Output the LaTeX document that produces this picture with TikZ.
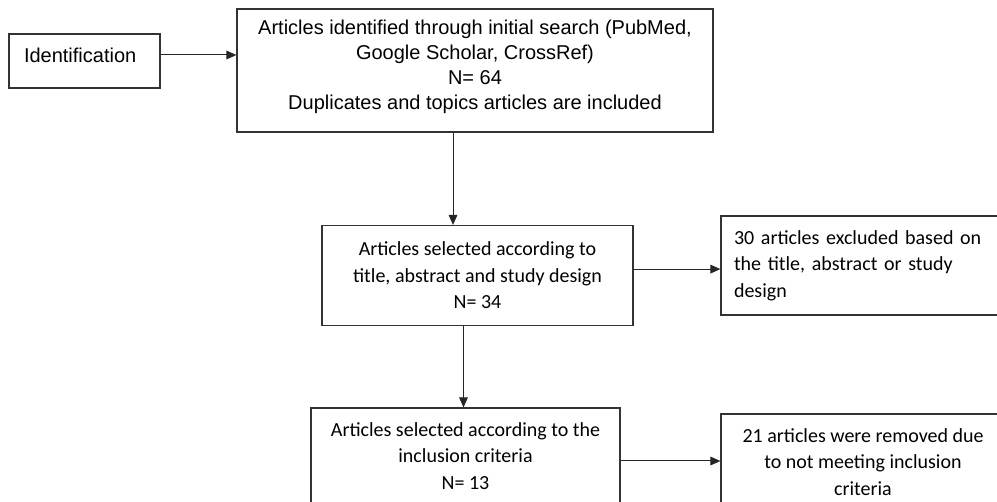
\documentclass[tikz,border=0pt]{standalone}
\usepackage{fontspec}
\setmainfont{Liberation Sans}
\newfontfamily\calibrifont{Carlito}
\usetikzlibrary{positioning,arrows.meta}

\begin{document}
\begin{tikzpicture}[x=0.75pt,y=-0.75pt,
            box/.style={rectangle,draw=black!80,line width=0.9pt,fill=white,
                        inner sep=0pt,align=center},
            arialtxt/.style={font=\fontsize{15}{18.75}\selectfont},
            calitxt/.style={font=\calibrifont\fontsize{15}{19.9}\selectfont},
            arr/.style={-{Triangle[length=7.5pt,width=6.5pt]},black!85,line width=0.75pt}]
            \useasboundingbox (0,0) rectangle (997,502);
            \fill[white] (0,0) rectangle (997,502);
            \clip (0,0) rectangle (997,502);
            \node[box,arialtxt,minimum width=113.25pt,minimum height=40.5pt,
                  text width=90.75pt,align=left,text height=11pt,text depth=9pt]
                       (ident) at (84.5,61) {Identification};
            \node[box,arialtxt,minimum width=357pt,minimum height=92.25pt,text depth=8pt]
                       (srch) at (475,70.5) {Articles identified through initial search (PubMed,\\
                       Google Scholar, CrossRef)\\ N= 64\\ Duplicates and topics articles are included};
            \node[box,calitxt,minimum width=233.25pt,minimum height=75pt]
                       (sel) at (477.5,275.5) {Articles selected according to\\
                       title, abstract and study design\\ N= 34};
            \node[box,calitxt,minimum width=216.75pt,minimum height=74.25pt,
                  text width=197.25pt,align=left]
                       (excl1) at (865.5,265.5) {30 articles excluded based on\\
                       the title, abstract or study\\ design};
            \node[box,calitxt,minimum width=231.75pt,minimum height=72pt]
                       (incl) at (465.5,456) {Articles selected according to the\\
                       inclusion criteria\\ N= 13};
            \node[box,calitxt,minimum width=213pt,minimum height=72pt]
                       (excl2) at (863,462) {21 articles were removed due\\
                       to not meeting inclusion\\ criteria};
            \draw[arr] ([yshift=4.5pt]ident.east) -- ([yshift=4.5pt]ident.east -| srch.west);
            \draw[arr] ([xshift=-16.5pt]srch.south) -- ([xshift=-16.5pt]srch.south |- sel.north);
            \draw[arr] ([yshift=4.8pt]sel.east) -- ([yshift=4.8pt]sel.east -| excl1.west);
            \draw[arr] ([xshift=-10.5pt]sel.south) -- ([xshift=-10.5pt]sel.south |- incl.north);
            \draw[arr] ([yshift=-3.75pt]incl.east) -- ([yshift=-3.75pt]incl.east -| excl2.west);
        \end{tikzpicture}
\end{document}
